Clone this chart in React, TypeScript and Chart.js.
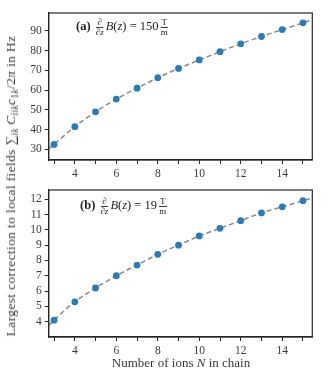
import React, { useEffect, useRef } from "react";
import { Chart, registerables } from "chart.js";

Chart.register(...registerables);

const ionsN = [3, 4, 5, 6, 7, 8, 9, 10, 11, 12, 13, 14, 15];
const topValues = [32.5, 41.5, 49.0, 55.5, 61.0, 66.3, 71.0, 75.3, 79.5, 83.5, 87.2, 90.7, 94.1];
const bottomValues = [4.1, 5.3, 6.2, 7.0, 7.7, 8.4, 9.0, 9.6, 10.1, 10.6, 11.1, 11.5, 11.9];

const fitX = [2.74, 3, 4, 5, 6, 7, 8, 9, 10, 11, 12, 13, 14, 15, 15.45];
const fitTop = [30.2, 32.5, 41.5, 49.0, 55.5, 61.0, 66.3, 71.0, 75.3, 79.5, 83.5, 87.2, 90.7, 94.1, 95.7];
const fitBottom = [3.75, 4.1, 5.3, 6.2, 7.0, 7.7, 8.4, 9.0, 9.6, 10.1, 10.6, 11.1, 11.5, 11.9, 12.08];

const xTicks = [3, 4, 5, 6, 7, 8, 9, 10, 11, 12, 13, 14, 15];
const yTicksTop = [30, 40, 50, 60, 70, 80, 90];
const yTicksBottom = [4, 5, 6, 7, 8, 9, 10, 11, 12];

const FONT = "'Liberation Serif', 'DejaVu Serif', serif";
const FRAME = "#262626";
const TEXT = "#3a3a3a";
const BLUE = "#2b7bb5";
const GRAY = "#8a8a8a";

const framePlugin = {
  id: "frame",
  afterDatasetsDraw(chart: any) {
    const { ctx, chartArea } = chart;
    ctx.save();
    ctx.strokeStyle = FRAME;
    ctx.lineWidth = 1.2;
    ctx.strokeRect(chartArea.left, chartArea.top, chartArea.right - chartArea.left, chartArea.bottom - chartArea.top);
    ctx.restore();
  },
};

function makeConfig(values: number[], fit: number[], yMin: number, yMax: number, yTicks: number[]) {
  return {
    type: "line" as const,
    data: {
      datasets: [
        {
          label: "points",
          data: ionsN.map((n, i) => ({ x: n, y: values[i] })),
          showLine: false,
          pointRadius: 3.4,
          pointBackgroundColor: BLUE,
          pointBorderColor: BLUE,
          pointBorderWidth: 0,
          order: 0,
        },
        {
          label: "fit",
          data: fitX.map((x, i) => ({ x, y: fit[i] })),
          borderColor: GRAY,
          borderWidth: 1.5,
          borderDash: [5, 3],
          pointRadius: 0,
          cubicInterpolationMode: "monotone" as const,
          fill: false,
          order: 1,
        },
      ],
    },
    options: {
      animation: false as const,
      responsive: false,
      maintainAspectRatio: false,
      layout: { padding: { top: 13, right: 12.7, left: 18, bottom: 0 } },
      plugins: { legend: { display: false }, tooltip: { enabled: false } },
      scales: {
        x: {
          type: "linear" as const,
          min: 2.74,
          max: 15.45,
          afterBuildTicks: (axis: any) => {
            axis.ticks = xTicks.map((v) => ({ value: v }));
          },
          afterFit: (axis: any) => {
            axis.height = 25;
          },
          ticks: {
            autoSkip: false,
            maxRotation: 0,
            padding: 3,
            color: TEXT,
            font: { family: FONT, size: 11.5 },
            callback: (v: any) => (Number(v) % 2 === 0 ? String(v) : ""),
          },
          grid: { display: true, drawOnChartArea: false, drawTicks: true, tickLength: 4, color: FRAME, lineWidth: 1 },
          border: { display: true, color: FRAME, width: 1.2 },
        },
        y: {
          type: "linear" as const,
          min: yMin,
          max: yMax,
          afterBuildTicks: (axis: any) => {
            axis.ticks = yTicks.map((v) => ({ value: v }));
          },
          afterFit: (axis: any) => {
            axis.width = 48.7 - 18;
          },
          ticks: {
            autoSkip: false,
            padding: 3,
            color: TEXT,
            font: { family: FONT, size: 11.5 },
            callback: (v: any) => String(v),
          },
          grid: { display: true, drawOnChartArea: false, drawTicks: true, tickLength: 4, color: FRAME, lineWidth: 1 },
          border: { display: true, color: FRAME, width: 1.2 },
        },
      },
    },
    plugins: [framePlugin],
  };
}

function Panel(props: { top: number; values: number[]; fit: number[]; yMin: number; yMax: number; yTicks: number[] }) {
  const ref = useRef<HTMLCanvasElement | null>(null);
  useEffect(() => {
    if (!ref.current) return;
    const chart = new Chart(ref.current, makeConfig(props.values, props.fit, props.yMin, props.yMax, props.yTicks) as any);
    return () => chart.destroy();
  }, []);
  return (
    <canvas
      ref={ref}
      width={325}
      height={185}
      style={{ position: "absolute", left: 0, top: props.top, width: 325, height: 185 }}
    />
  );
}

const frac = (num: React.ReactNode, den: React.ReactNode) => (
  <span style={{ display: "inline-flex", flexDirection: "column", alignItems: "center", verticalAlign: "middle", fontSize: 9, lineHeight: "9px", margin: "0 2px" }}>
    <span style={{ borderBottom: `0.8px solid ${TEXT}`, padding: "0 1px" }}>{num}</span>
    <span>{den}</span>
  </span>
);

function Annotation(props: { left: number; top: number; tag: string; value: string }) {
  return (
    <div style={{ position: "absolute", left: props.left, top: props.top, fontFamily: FONT, fontSize: 12.5, color: "#222", whiteSpace: "nowrap", lineHeight: "18px" }}>
      <b>({props.tag})</b>{" "}
      {frac(<i>∂</i>, <i>∂z</i>)}
      <i>B</i>(<i>z</i>) = {props.value}
      {frac("T", "m")}
    </div>
  );
}

const subStyle = { fontSize: 9.5, verticalAlign: "-3px", lineHeight: 0 } as const;

export default function App() {
  return (
    <div style={{ position: "fixed", left: 0, top: 0, width: 331, height: 380, background: "#fff", overflow: "hidden" }}>
      <Panel top={0} values={topValues} fit={fitTop} yMin={24.6} yMax={99.1} yTicks={yTicksTop} />
      <Panel top={177} values={bottomValues} fit={fitBottom} yMin={3.0} yMax={12.6} yTicks={yTicksBottom} />
      <Annotation left={76} top={17} tag="a" value="150" />
      <Annotation left={80} top={196} tag="b" value="19" />
      <div style={{ position: "absolute", left: 181, top: 363, transform: "translate(-50%, -50%)", fontFamily: FONT, fontSize: 13, color: TEXT, whiteSpace: "nowrap" }}>
        Number of ions <i>N</i> in chain
      </div>
      <div
        style={{
          position: "absolute",
          left: 11,
          top: 186,
          transform: "translate(-50%, -50%) rotate(-90deg)",
          fontFamily: FONT,
          fontSize: 13.5,
          letterSpacing: "0.35px",
          color: TEXT,
          whiteSpace: "nowrap",
          lineHeight: "16px",
        }}
      >
        Largest correction to local fields ∑<span style={subStyle}><i>ik</i></span>{"\u2009"}<i>C</i>
        <span style={subStyle}><i>iik</i></span>
        <i>c</i>
        <span style={subStyle}>1<i>k</i></span>/2<i>π</i> in Hz
      </div>
    </div>
  );
}
